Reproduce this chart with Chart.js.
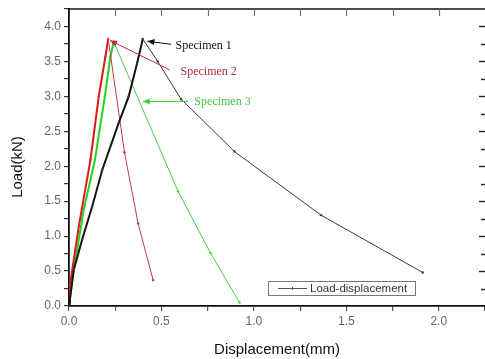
<!DOCTYPE html>
<html>
<head>
<meta charset="utf-8">
<script src="https://cdn.jsdelivr.net/npm/chart.js@4.4.1/dist/chart.umd.min.js"></script>
<style>
html,body{margin:0;padding:0;background:#fff;}
#wrap{width:485px;height:359px;position:relative;}
</style>
</head>
<body>
<div id="wrap"><canvas id="c" width="485" height="359"></canvas></div>
<script>
// ---- data ----
const spec1X = [0, 0.026, 0.071, 0.125, 0.18, 0.269, 0.323, 0.369, 0.399, 0.48, 0.606, 0.895, 1.363, 1.913];
const spec1Y = [0, 0.52, 0.95, 1.42, 1.95, 2.62, 3.0, 3.48, 3.82, 3.50, 2.96, 2.21, 1.30, 0.48];
const spec2X = [0, 0.005, 0.053, 0.116, 0.161, 0.197, 0.212, 0.30, 0.374, 0.455];
const spec2Y = [0.02, 0.3, 1.14, 2.09, 3.0, 3.57, 3.82, 2.2, 1.18, 0.37];
const spec3X = [0, 0.026, 0.08, 0.14, 0.194, 0.224, 0.242, 0.59, 0.765, 0.922];
const spec3Y = [0, 0.52, 1.38, 2.09, 3.0, 3.57, 3.78, 1.64, 0.76, 0.05];
const seriesNames = ['Specimen 1', 'Specimen 2', 'Specimen 3'];
const xTickLabels = ['0.0', '0.5', '1.0', '1.5', '2.0'];
const yTickLabels = ['0.0', '0.5', '1.0', '1.5', '2.0', '2.5', '3.0', '3.5', '4.0'];
const xTitle = 'Displacement(mm)';
const yTitle = 'Load(kN)';
const legendLabel = 'Load-displacement';

// ---- build ----
function pts(xs, ys){ return xs.map((x,i)=>({x:x, y:ys[i]})); }
function peakIndex(ys){ let m=0; ys.forEach((v,i)=>{ if(v>ys[m]) m=i; }); return m; }

const colors = [
  {up:'#151515', down:'#3a3a3a', text:'#111111'},
  {up:'#e01818', down:'#c23a4a', text:'#b8283a'},
  {up:'#22d422', down:'#3fd03f', text:'#3ccc3c'}
];
const allX = [spec1X, spec2X, spec3X];
const allY = [spec1Y, spec2Y, spec3Y];

const datasets = allX.map((xs, k) => {
  const pk = peakIndex(allY[k]);
  return {
    label: seriesNames[k],
    data: pts(xs, allY[k]),
    borderColor: colors[k].up,
    backgroundColor: colors[k].down,
    pointRadius: 1.2,
    pointBorderWidth: 0,
    pointBackgroundColor: colors[k].down,
    tension: 0,
    segment: {
      borderWidth: ctx => ctx.p1DataIndex <= pk ? 2 : 1,
      borderColor: ctx => ctx.p1DataIndex <= pk ? colors[k].up : colors[k].down
    }
  };
});

// annotation positions in data units
const notes = [
  {text: seriesNames[0], color: colors[0].text, tx: 0.576, ty: 3.725, from:[0.552, 3.745], to:[0.424, 3.79]},
  {text: seriesNames[1], color: colors[1].text, tx: 0.603, ty: 3.357, from:[0.544, 3.38], to:[0.222, 3.80]},
  {text: seriesNames[2], color: colors[2].text, tx: 0.678, ty: 2.927, from:[0.642, 2.927], to:[0.399, 2.927]}
];

function arrow(ctx, x1, y1, x2, y2, color){
  ctx.save();
  ctx.strokeStyle = color; ctx.fillStyle = color; ctx.lineWidth = 1;
  ctx.beginPath(); ctx.moveTo(x1, y1); ctx.lineTo(x2, y2); ctx.stroke();
  const a = Math.atan2(y2 - y1, x2 - x1), L = 7, W = 3;
  ctx.beginPath();
  ctx.moveTo(x2, y2);
  ctx.lineTo(x2 - L*Math.cos(a) + W*Math.sin(a), y2 - L*Math.sin(a) - W*Math.cos(a));
  ctx.lineTo(x2 - L*Math.cos(a) - W*Math.sin(a), y2 - L*Math.sin(a) + W*Math.cos(a));
  ctx.closePath(); ctx.fill();
  ctx.restore();
}

const framePlugin = {
  id: 'frame',
  afterDraw(chart){
    const ctx = chart.ctx, ca = chart.chartArea;
    const xs = chart.scales.x, ys = chart.scales.y;
    ctx.save();
    // top frame line
    ctx.strokeStyle = '#111'; ctx.lineWidth = 1.6;
    ctx.beginPath(); ctx.moveTo(ca.left, ca.top); ctx.lineTo(ca.right, ca.top); ctx.stroke();
    // top inner ticks
    ctx.strokeStyle = '#777'; ctx.lineWidth = 1.2;
    xs.ticks.forEach(t => {
      const px = Math.round(xs.getPixelForValue(t.value)) + 0.5;
      if (px <= ca.left + 1 || px >= ca.right - 1) return;
      ctx.beginPath(); ctx.moveTo(px, ca.top); ctx.lineTo(px, ca.top + 7); ctx.stroke();
    });
    // right inner ticks
    ctx.strokeStyle = '#222'; ctx.lineWidth = 1.4;
    ys.ticks.forEach(t => {
      const py = Math.round(ys.getPixelForValue(t.value)) + 0.5;
      if (py <= ca.top + 1 || py >= ca.bottom - 1) return;
      const major = Math.abs(t.value*2 - Math.round(t.value*2)) < 1e-6;
      ctx.beginPath(); ctx.moveTo(ca.right - (major ? 6 : 4), py); ctx.lineTo(ca.right, py); ctx.stroke();
    });
    // annotations
    notes.forEach(n => {
      arrow(ctx, xs.getPixelForValue(n.from[0]), ys.getPixelForValue(n.from[1]),
                 xs.getPixelForValue(n.to[0]), ys.getPixelForValue(n.to[1]), n.color);
      ctx.fillStyle = n.color;
      ctx.font = '12px "Liberation Serif", "DejaVu Serif", serif';
      ctx.textBaseline = 'middle'; ctx.textAlign = 'left';
      ctx.fillText(n.text, xs.getPixelForValue(n.tx), ys.getPixelForValue(n.ty));
    });
    // legend box
    const bx = 268, by = 281, bw = 147, bh = 14;
    ctx.fillStyle = '#fff'; ctx.fillRect(bx, by, bw, bh);
    ctx.strokeStyle = '#777'; ctx.lineWidth = 1;
    ctx.strokeRect(bx + 0.5, by + 0.5, bw, bh);
    ctx.strokeStyle = '#555'; ctx.lineWidth = 1;
    ctx.beginPath(); ctx.moveTo(278, by + 7.5); ctx.lineTo(307, by + 7.5); ctx.stroke();
    ctx.beginPath(); ctx.moveTo(292.5, by + 6); ctx.lineTo(292.5, by + 9); ctx.stroke();
    ctx.fillStyle = '#333'; ctx.font = '11.5px "Liberation Sans", Arial, sans-serif';
    ctx.textBaseline = 'middle'; ctx.textAlign = 'left';
    ctx.fillText(legendLabel, 310, by + 8);
    // y title
    ctx.save();
    ctx.translate(18, 167); ctx.rotate(-Math.PI/2);
    ctx.fillStyle = '#111'; ctx.font = '15px "Liberation Sans", Arial, sans-serif';
    ctx.textAlign = 'center'; ctx.textBaseline = 'middle';
    ctx.fillText(yTitle, 0, 0);
    ctx.restore();
    ctx.restore();
  }
};

function isHalf(v){ return Math.abs(v*2 - Math.round(v*2)) < 1e-6; }

new Chart(document.getElementById('c'), {
  type: 'line',
  data: { datasets },
  options: {
    responsive: false,
    animation: false,
    events: [],
    layout: { autoPadding: false, padding: { top: 9, right: 0, left: 0, bottom: 0 } },
    plugins: { legend: { display: false }, tooltip: { enabled: false } },
    scales: {
      x: {
        type: 'linear', min: 0, max: 2.25,
        afterFit(s){ s.height = 53; s.paddingRight = 0; s.paddingLeft = 0; },
        border: { display: true, color: '#111', width: 1.8 },
        grid: { drawOnChartArea: false, drawTicks: true, tickLength: 5, color: '#555', lineWidth: 1.2 },
        ticks: {
          stepSize: 0.25, autoSkip: false, maxRotation: 0, padding: 3,
          color: '#666', font: { family: '"Liberation Sans", Arial, sans-serif', size: 12 },
          callback: v => isHalf(v) ? (xTickLabels[Math.round(v*2)] ?? '') : ''
        },
        title: { display: true, text: xTitle, color: '#111', padding: { top: 4, bottom: 0 },
          font: { family: '"Liberation Sans", Arial, sans-serif', size: 15 } }
      },
      y: {
        type: 'linear', min: 0, max: 4.25,
        afterFit(s){ s.width = 69; s.paddingTop = 0; s.paddingBottom = 0; },
        border: { display: true, color: '#111', width: 1.8 },
        grid: { drawOnChartArea: false, drawTicks: true, tickLength: 5, color: '#333', lineWidth: 1.2 },
        ticks: {
          stepSize: 0.25, autoSkip: false, padding: 3,
          color: '#666', font: { family: '"Liberation Sans", Arial, sans-serif', size: 12 },
          callback: v => isHalf(v) ? (yTickLabels[Math.round(v*2)] ?? '') : ''
        }
      }
    }
  },
  plugins: [framePlugin]
});
</script>
</body>
</html>
